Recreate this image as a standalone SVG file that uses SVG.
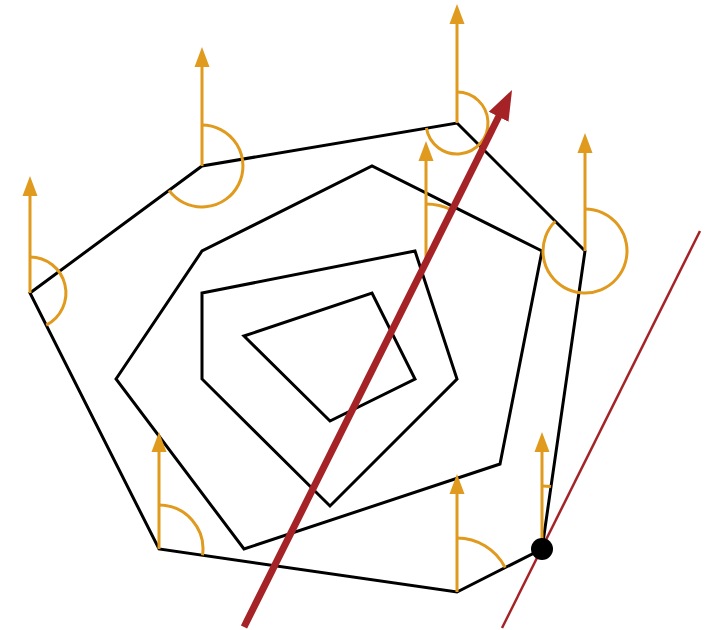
<svg xmlns="http://www.w3.org/2000/svg" width="705" height="630" viewBox="0 0 705 630">
<style>
.poly{fill:none;stroke:#000;stroke-width:3;stroke-linejoin:miter}
.vec{fill:none;stroke:#E09A1E;stroke-width:3;marker-end:url(#oh)}
.arc{fill:none;stroke:#E09A1E;stroke-width:3}
.red{fill:none;stroke:#A52326}
</style>
<defs>
<marker id="oh" markerUnits="userSpaceOnUse" markerWidth="20" markerHeight="16" refX="7" refY="7.5" orient="auto" viewBox="0 0 20 15">
<path d="M0,0 L20,7.5 L0,15 z" fill="#E09A1E"/>
</marker>
<marker id="rh" markerUnits="userSpaceOnUse" markerWidth="30" markerHeight="24" refX="12" refY="11" orient="auto" viewBox="0 0 30 22">
<path d="M0,0 L30,11 L0,22 z" fill="#A52326"/>
</marker>
</defs>
<g id="poly-outer"><polygon class="poly" points="30,293 202,166 457,123 585,251 542,549 457,592 159,549"/></g>
<g id="poly-2"><polygon class="poly" points="116,379 202,251 372,166 542,251 500,464 244,549"/></g>
<g id="poly-3"><polygon class="poly" points="202,293 415,251 457,379 330,506 202,379"/></g>
<g id="poly-4"><polygon class="poly" points="244,336 372,293 415,379 330,421"/></g>
<g id="connectors">
<line class="vec" x1="457" y1="123" x2="457" y2="17"/>
<path class="arc" d="M457,92 A31,31 0 1 1 426.4,128.1"/>
<line class="vec" x1="202" y1="166" x2="202" y2="60"/>
<path class="arc" d="M202,125 A41,41 0 1 1 169,190.4"/>
<line class="vec" x1="30" y1="293" x2="30" y2="189"/>
<path class="arc" d="M30,257 A36,36 0 0 1 46.2,325.1"/>
<line class="vec" x1="585" y1="251" x2="585" y2="146"/>
<path class="arc" d="M585,209 A42,42 0 1 1 555.3,221.3"/>
<line class="vec" x1="159" y1="549" x2="159" y2="445"/>
<path class="arc" d="M159,505 A44,44 0 0 1 202.5,555.3"/>
<line class="vec" x1="457" y1="592" x2="457" y2="487"/>
<path class="arc" d="M457,538 A54,54 0 0 1 505.2,567.6"/>
<line class="vec" x1="542" y1="549" x2="542" y2="445"/>
<path class="arc" d="M542,486 A63,63 0 0 1 551,486.6"/>
<line class="vec" x1="426" y1="262" x2="426" y2="154"/>
<path class="arc" d="M426,204 A58,58 0 0 1 451.9,210.1"/>
<line class="red" stroke-width="2.5" x1="502" y1="628" x2="700" y2="231"/>
<line class="red" stroke-width="7" x1="244" y1="627" x2="504" y2="106" marker-end="url(#rh)"/>
</g>
<g id="point"><circle cx="542" cy="549" r="11" fill="#000"/></g>
</svg>
